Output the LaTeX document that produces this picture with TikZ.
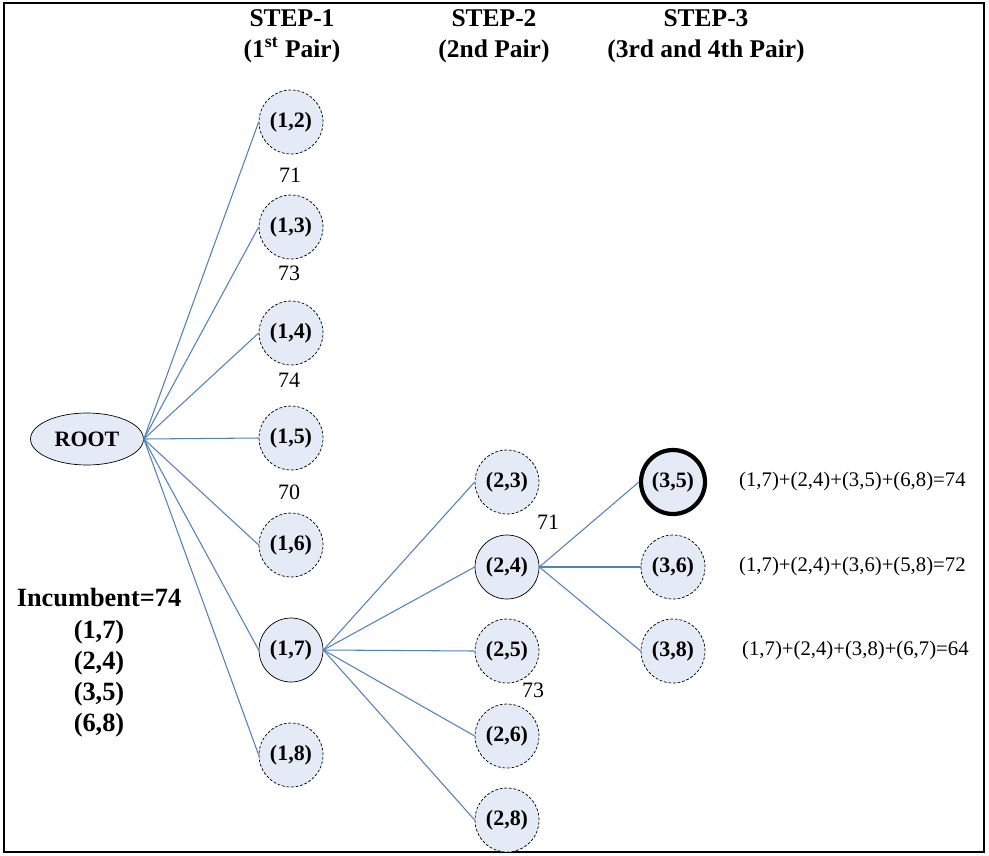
\documentclass[tikz,border=0pt]{standalone}
\usepackage{fontspec}
\setmainfont{Liberation Serif}
\usetikzlibrary{shapes.geometric}
\definecolor{pairfill}{RGB}{229,235,246}
\definecolor{linkblue}{RGB}{79,129,189}

\begin{document}
\begin{tikzpicture}[x=0.02cm,y=-0.02cm,
    pair/.style={circle,draw,dash pattern=on 1.6pt off 1pt,fill=pairfill,minimum size=1.28cm,inner sep=0pt,font=\fontsize{12.5}{14}\selectfont\bfseries},
    chosen/.style={pair,solid},
    best/.style={pair,solid,line width=2.4pt},
    link/.style={linkblue,line width=0.6pt},
    bound/.style={font=\fontsize{12.5}{14}\selectfont},
    total/.style={font=\fontsize{11.8}{14}\selectfont,anchor=west},
    header/.style={font=\fontsize{14.5}{17.5}\selectfont\bfseries,align=center}]
      \useasboundingbox (0,0) rectangle (989,855);

      % Frame
      \draw[line width=1.3pt] (4,3) rectangle (984,852);

      % Step headers
      \node[header] (h1) at (292,36) {STEP-1\\(1\textsuperscript{st} Pair)};
      \node[header] (h2) at (494,36) {STEP-2\\(2nd Pair)};
      \node[header] (h3) at (706,36) {STEP-3\\(3rd and 4th Pair)};

      % Root
      \node[ellipse,draw,fill=pairfill,minimum width=2.26cm,minimum height=1.04cm,inner sep=0pt,font=\fontsize{12.5}{14}\selectfont\bfseries] (root) at (87,439) {ROOT};

      % Step 1 pairs
      \node[pair] (p12) at (291,122) {(1,2)};
      \node[pair] (p13) at (291,227) {(1,3)};
      \node[pair] (p14) at (291,333) {(1,4)};
      \node[pair] (p15) at (291,438) {(1,5)};
      \node[pair] (p16) at (291,545) {(1,6)};
      \node[chosen] (p17) at (291,650) {(1,7)};
      \node[pair] (p18) at (291,755) {(1,8)};

      % Step 2 pairs
      \node[pair] (p23) at (507,482) {(2,3)};
      \node[chosen] (p24) at (507,567) {(2,4)};
      \node[pair] (p25) at (507,651) {(2,5)};
      \node[pair] (p26) at (507,736) {(2,6)};
      \node[pair] (p28) at (507,820) {(2,8)};

      % Step 3 pairs
      \node[best] (p35) at (673,482) {(3,5)};
      \node[pair] (p36) at (673,567) {(3,6)};
      \node[pair] (p38) at (673,651) {(3,8)};

      % Bounds
      \node[bound] (b12) at (290,175) {71};
      \node[bound] (b13) at (289,273) {73};
      \node[bound] (b14) at (289,380) {74};
      \node[bound] (b15) at (289,492) {70};
      \node[bound] (b23) at (548,522) {71};
      \node[bound] (b25) at (533,690) {73};

      % Totals
      \node[total] (t35) at (733,482) {(1,7)+(2,4)+(3,5)+(6,8)=74};
      \node[total] (t36) at (733,567) {(1,7)+(2,4)+(3,6)+(5,8)=72};
      \node[total] (t38) at (736,651) {(1,7)+(2,4)+(3,8)+(6,7)=64};

      % Incumbent
      \node[align=center,font=\fontsize{15}{17.8}\selectfont\bfseries] (inc) at (99,663) {Incumbent=74\\(1,7)\\(2,4)\\(3,5)\\(6,8)};

      % Links from root
      \draw[link] (root.east) -- (p12.west);
      \draw[link] (root.east) -- (p13.west);
      \draw[link] (root.east) -- (p14.west);
      \draw[link] (root.east) -- (p15.west);
      \draw[link] (root.east) -- (p16.west);
      \draw[link] (root.east) -- (p17.west);
      \draw[link] (root.east) -- (p18.west);

      % Links from (1,7)
      \draw[link] (p17.east) -- (p23.west);
      \draw[link] (p17.east) -- (p24.west);
      \draw[link] (p17.east) -- (p25.west);
      \draw[link] (p17.east) -- (p26.west);
      \draw[link] (p17.east) -- (p28.west);

      % Links from (2,4)
      \draw[link] (p24.east) -- (p35.west);
      \draw[link] (p24.east) -- (p36.west);
      \draw[link] (p24.east) -- (p38.west);
    \end{tikzpicture}
\end{document}
